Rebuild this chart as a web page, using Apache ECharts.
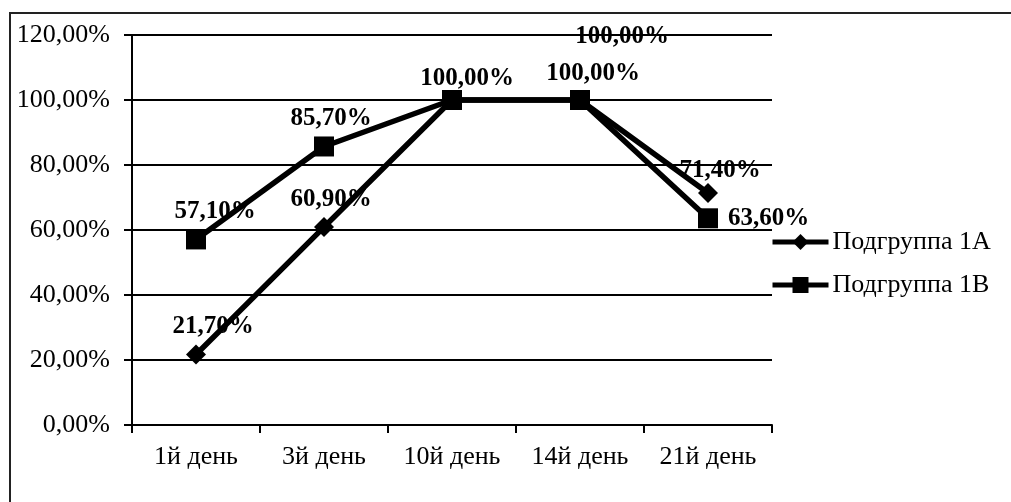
<!DOCTYPE html>
<html>
<head>
<meta charset="utf-8">
<script src="https://cdn.jsdelivr.net/npm/echarts@6/dist/echarts.min.js"></script>
<style>
html,body{margin:0;padding:0;background:#fff;}
#chart{width:1011px;height:502px;}
</style>
</head>
<body>
<div id="chart"></div>
<script>
// ---- data ----
const categories = ['1й день', '3й день', '10й день', '14й день', '21й день'];
const seriesNames = ['Подгруппа 1А', 'Подгруппа 1В'];
const valuesA = [21.7, 60.9, 100, 100, 71.4];
const valuesB = [57.1, 85.7, 100, 100, 63.6];
const yMin = 0, yMax = 120, yStep = 20;

// ---- label placement (style only) ----
const FONT = "'Liberation Serif', 'Times New Roman', serif";
const labelA = [
  {offset: [17, -1]},
  {offset: [7, -1]},
  {show: false},
  {offset: [42, -37]},
  {offset: [12, 4]}
];
const labelB = [
  {offset: [19, 0]},
  {offset: [7, 0]},
  {offset: [15, 6]},
  {offset: [13, 1]},
  {position: 'right', distance: 10, offset: [0, 0]}
];

function fmt(v) { return v.toFixed(2).replace('.', ',') + '%'; }

function build(values, labels) {
  return values.map((v, i) => ({ value: v, label: labels[i] }));
}

const chart = echarts.init(document.getElementById('chart'), null, {renderer: 'canvas'});
const baseLabel = {
  show: true,
  position: 'top',
  distance: 5,
  fontFamily: FONT,
  fontSize: 25,
  fontWeight: 'bold',
  color: '#000',
  formatter: p => fmt(p.value)
};

chart.setOption({
  animation: false,
  backgroundColor: '#fff',
  textStyle: {fontFamily: FONT},
  graphic: [{
    type: 'rect',
    shape: {x: 10, y: 13, width: 1100, height: 600},
    style: {fill: 'none', stroke: '#222', lineWidth: 2},
    silent: true,
    z: -1
  }],
  grid: {left: 132, right: 239, top: 35, bottom: 77, containLabel: false},
  legend: {
    orient: 'vertical',
    left: 770,
    top: 229,
    padding: 0,
    itemWidth: 56,
    itemHeight: 20,
    itemGap: 17,
    lineStyle: {width: 5, color: '#000'},
    textStyle: {fontFamily: FONT, fontSize: 26, color: '#000', padding: [0,0,0,-1]},
    data: seriesNames
  },
  xAxis: {
    type: 'category',
    data: categories,
    boundaryGap: true,
    axisLine: {lineStyle: {color: '#000', width: 2}},
    axisTick: {show: true, length: 8, lineStyle: {color: '#000', width: 2}, alignWithLabel: false},
    axisLabel: {fontFamily: FONT, fontSize: 26, color: '#000', margin: 19}
  },
  yAxis: {
    type: 'value',
    min: yMin, max: yMax, interval: yStep,
    axisLine: {show: true, lineStyle: {color: '#000', width: 2}},
    axisTick: {show: true, length: 8, lineStyle: {color: '#000', width: 2}},
    splitLine: {show: true, lineStyle: {color: '#000', width: 2}},
    axisLabel: {fontFamily: FONT, fontSize: 26, color: '#000', margin: 22, formatter: v => fmt(v)}
  },
  series: [
    {
      name: seriesNames[0],
      type: 'line',
      data: build(valuesA, labelA),
      symbol: 'diamond',
      symbolSize: 20,
      color: '#000',
      lineStyle: {color: '#000', width: 5.5},
      itemStyle: {color: '#000'},
      label: Object.assign({}, baseLabel, {distance: 4}),
      z: 3
    },
    {
      name: seriesNames[1],
      type: 'line',
      data: build(valuesB, labelB),
      symbol: 'rect',
      symbolSize: 20,
      color: '#000',
      lineStyle: {color: '#000', width: 5.5},
      itemStyle: {color: '#000'},
      label: Object.assign({}, baseLabel),
      z: 2
    }
  ]
});
</script>
</body>
</html>
